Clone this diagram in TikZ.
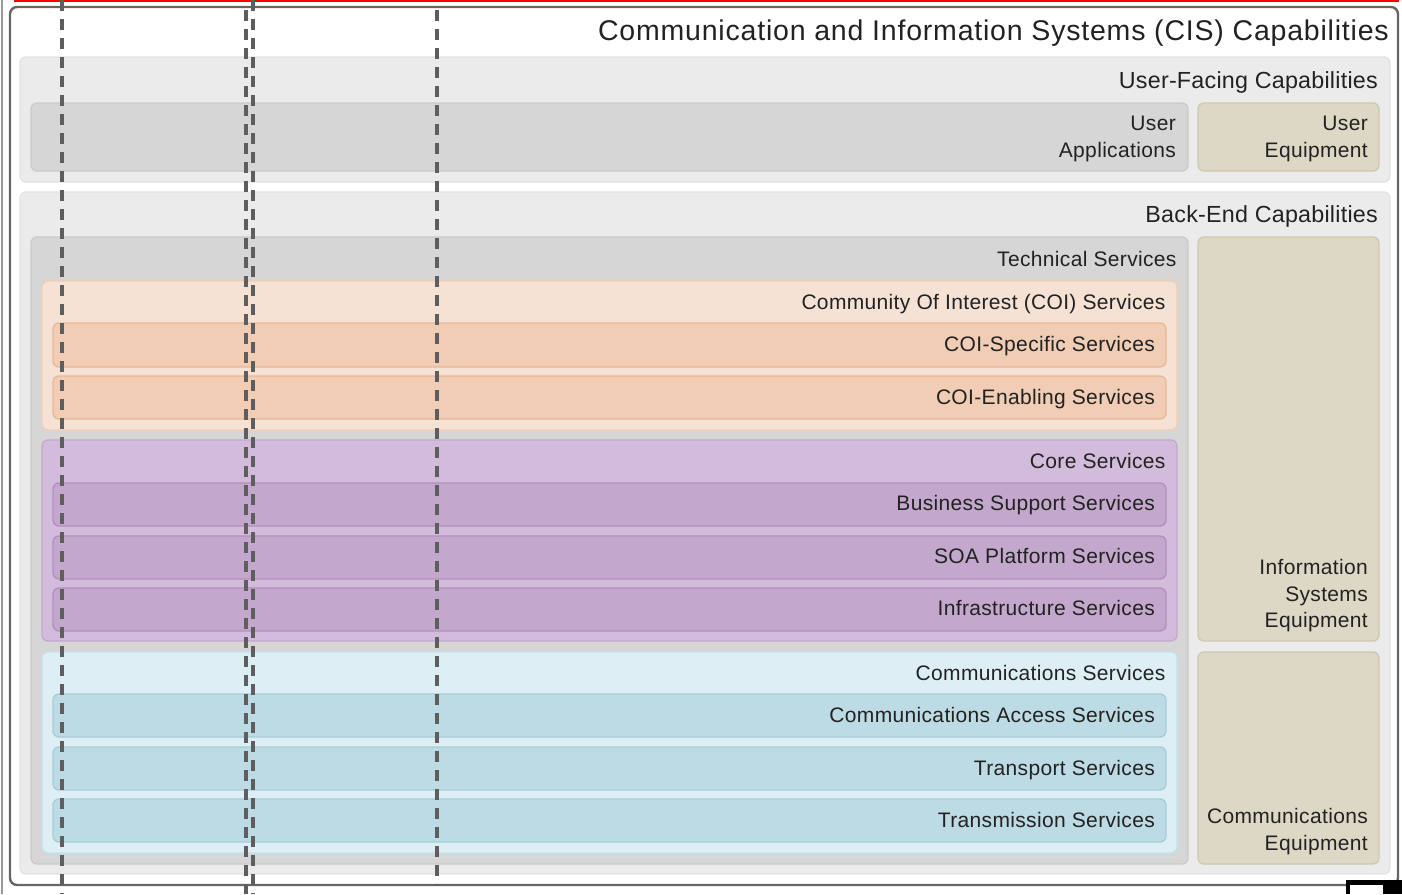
\documentclass[tikz,border=0pt]{standalone}
\usepackage{fontspec}
\setmainfont{Liberation Sans}
\newfontfamily\lfa[LetterSpace=1.6]{Liberation Sans}
\newfontfamily\lfb[LetterSpace=1.0]{Liberation Sans}
\newfontfamily\lfc[LetterSpace=2.8]{Liberation Sans}
\usetikzlibrary{fit,calc}
\definecolor{txt}{HTML}{222222}
\definecolor{frameC}{HTML}{666666}
\definecolor{lgF}{HTML}{EBEBEB}\definecolor{lgD}{HTML}{E2E2E2}
\definecolor{mgF}{HTML}{D6D6D6}\definecolor{mgD}{HTML}{CACACA}
\definecolor{tanF}{HTML}{DDD8C5}\definecolor{tanD}{HTML}{CEC8B0}
\definecolor{coiF}{HTML}{F5E2D5}\definecolor{coiD}{HTML}{F3CDB2}
\definecolor{coiiF}{HTML}{F0CDB4}\definecolor{coiiD}{HTML}{E8B994}
\definecolor{corF}{HTML}{D3BBDB}\definecolor{corD}{HTML}{C5A8CF}
\definecolor{coriF}{HTML}{C4A7CC}\definecolor{coriD}{HTML}{B38FBE}
\definecolor{comF}{HTML}{DDEFF5}\definecolor{comD}{HTML}{C3E2EC}
\definecolor{comiF}{HTML}{BDDBE4}\definecolor{comiD}{HTML}{A6CCD8}
\definecolor{dashC}{HTML}{5E5E5E}
\begin{document}
\begin{tikzpicture}[x=1pt,y=-1pt,
  bx/.style={inner sep=0pt, outer sep=0pt, rounded corners=6pt, line width=1.3pt},
  lg/.style={bx, fill=lgF, draw=lgD},
  mg/.style={bx, fill=mgF, draw=mgD},
  tan/.style={bx, fill=tanF, draw=tanD},
  coi/.style={bx, fill=coiF, draw=coiD},
  coii/.style={bx, fill=coiiF, draw=coiiD},
  cor/.style={bx, fill=corF, draw=corD},
  cori/.style={bx, fill=coriF, draw=coriD},
  com/.style={bx, fill=comF, draw=comD},
  comi/.style={bx, fill=comiF, draw=comiD},
  lbl/.style={anchor=base east, inner sep=0pt, text=txt, font=\lfa\fontsize{21}{26.3}\selectfont},
  biglbl/.style={anchor=base east, inner sep=0pt, text=txt, font=\lfb\fontsize{23.3}{28}\selectfont},
  mlbl/.style={anchor=north east, inner sep=0pt, text=txt, font=\lfa\fontsize{21}{26.3}\selectfont, align=right},
  dline/.style={draw=dashC, line width=3.2pt, dash pattern=on 11pt off 8pt}
]
\useasboundingbox (0,0) rectangle (1402,894);
% outer frame
\node[fit={(10,7)(1398,885)}, inner sep=0pt, outer sep=0pt, draw=frameC, line width=2.4pt, rounded corners=7pt] (frame) {};
\node[anchor=base east, inner sep=0pt, text=txt, font=\lfc\fontsize{28.5}{34}\selectfont] (ttl) at ($(frame.north east)+(-9,33.7)$) {Communication and Information Systems (CIS) Capabilities};
% user-facing
\node[lg, fit={(20,57)(1390,182)}] (uf) {};
\node[biglbl] (ufl) at ($(uf.north east)+(-12,31.3)$) {User-Facing Capabilities};
\node[mg, fit={(31,103)(1188,171)}] (uapp) {};
\node[mlbl] (uappl) at ($(uapp.north east)+(-12,11.7)$) {\rule{0pt}{16pt}User\\Applications};
\node[tan, fit={(1198,103)(1379,171)}] (ueq) {};
\node[mlbl] (ueql) at ($(ueq.north east)+(-11,11.7)$) {\rule{0pt}{16pt}User\\Equipment};
% back-end
\node[lg, fit={(20,192)(1390,874)}] (be) {};
\node[biglbl] (bel) at ($(be.north east)+(-12,30.3)$) {Back-End Capabilities};
\node[mg, fit={(31,237)(1188,864)}] (tech) {};
\node[lbl] (techl) at ($(tech.north east)+(-11.3,29.7)$) {Technical Services};
\node[tan, fit={(1198,237)(1379,641)}] (ise) {};
\node[mlbl] (isel) at ($(ise.north east)+(-11,321.6)$) {\rule{0pt}{16pt}Information\\Systems\\Equipment};
\node[tan, fit={(1198,652)(1379,864)}] (ceq) {};
\node[mlbl] (ceql) at ($(ceq.north east)+(-11,155.6)$) {\rule{0pt}{16pt}Communications\\Equipment};
% COI
\node[coi, fit={(42,281)(1177,430)}] (coi) {};
\node[lbl] (coil) at ($(coi.north east)+(-11.3,28.8)$) {Community Of Interest (COI) Services};
\node[coii, fit={(53,323)(1166,367)}] (coisp) {};
\node[lbl] (coispl) at ($(coisp.north east)+(-11,28.6)$) {COI-Specific Services};
\node[coii, fit={(53,376)(1166,419)}] (coien) {};
\node[lbl] (coienl) at ($(coien.north east)+(-11,28.6)$) {COI-Enabling Services};
% Core
\node[cor, fit={(42,440)(1177,641)}] (core) {};
\node[lbl] (corel) at ($(core.north east)+(-11.3,28.6)$) {Core Services};
\node[cori, fit={(53,483)(1166,526)}] (bss) {};
\node[lbl] (bssl) at ($(bss.north east)+(-11,27.6)$) {Business Support Services};
\node[cori, fit={(53,536)(1166,579)}] (soa) {};
\node[lbl] (soal) at ($(soa.north east)+(-11,27.6)$) {SOA Platform Services};
\node[cori, fit={(53,588)(1166,631)}] (inf) {};
\node[lbl] (infl) at ($(inf.north east)+(-11,27.6)$) {Infrastructure Services};
% Communications
\node[com, fit={(42,652)(1177,853)}] (comm) {};
\node[lbl] (comml) at ($(comm.north east)+(-11.3,28.6)$) {Communications Services};
\node[comi, fit={(53,694)(1166,737)}] (cas) {};
\node[lbl] (casl) at ($(cas.north east)+(-11,28.6)$) {Communications Access Services};
\node[comi, fit={(53,747)(1166,790)}] (tps) {};
\node[lbl] (tpsl) at ($(tps.north east)+(-11,28.6)$) {Transport Services};
\node[comi, fit={(53,799)(1166,842)}] (trs) {};
\node[lbl] (trsl) at ($(trs.north east)+(-11,28.6)$) {Transmission Services};
% overlays
\draw[red, line width=2.2pt] (14,1.2) -- (1399,1.2);
\draw[draw=gray!80, line width=1.4pt] (2,0) -- (2,894);
\draw[dline] (62,0) -- (62,894);
\draw[dline] (246,10) -- (246,894);
\draw[dline] (253,0) -- (253,894);
\draw[dline] (437,10) -- (437,886);
\fill[black] (1346,880) rectangle (1402,894);
\fill[white] (1350,885) rectangle (1383,894);
\end{tikzpicture}
\end{document}
